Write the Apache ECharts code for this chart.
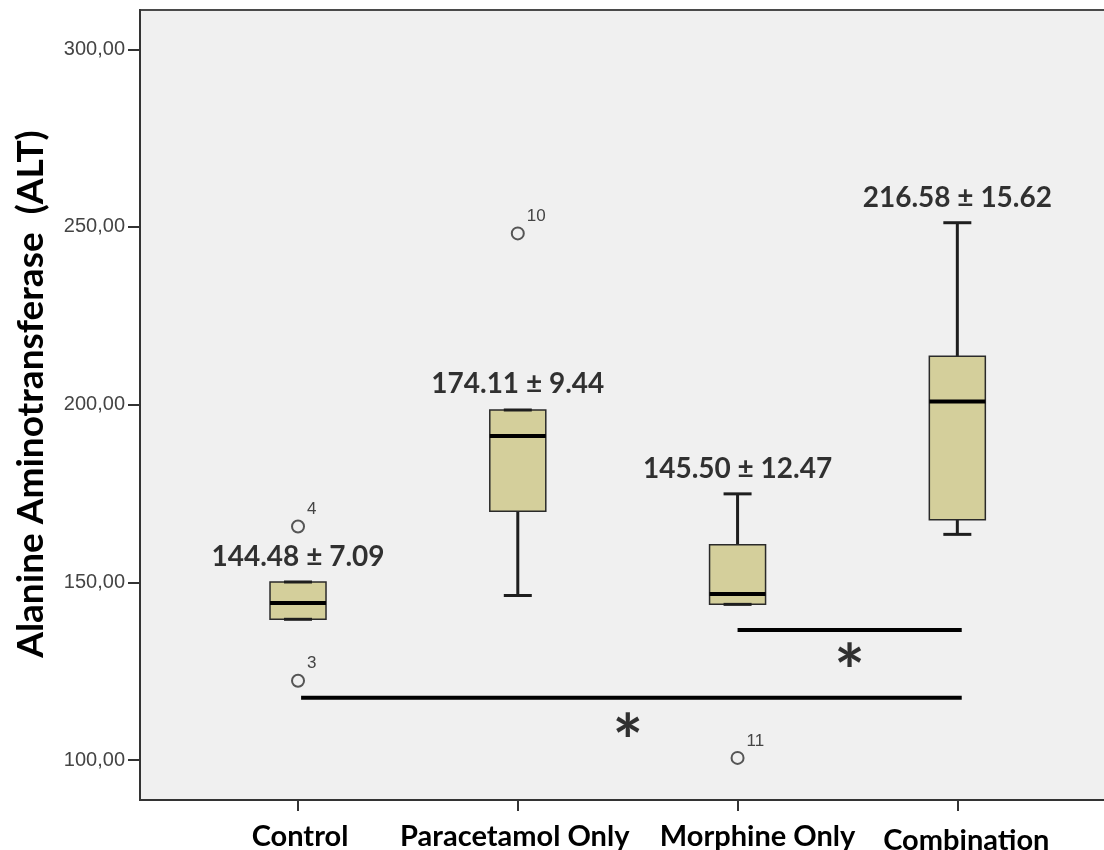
<!DOCTYPE html>
<html>
<head>
<meta charset="utf-8">
<script src="https://cdn.jsdelivr.net/npm/echarts@6/dist/echarts.min.js"></script>
<style>
  html, body { margin: 0; padding: 0; background: #fff; }
  #alt-box { width: 1104px; height: 850px; }
</style>
</head>
<body>
<div id="alt-box"></div>
<script>
// groups on the x axis (1..4)
const categories = ['Control', 'Paracetamol Only', 'Morphine Only', 'Combination'];
const groupX = [1, 2, 3, 4];
// box statistics
const whiskerLow = [139.6, 146.3, 143.8, 163.5];
const q1 = [139.6, 170.0, 143.8, 167.6];
const median = [144.2, 191.2, 146.7, 200.9];
const q3 = [150.1, 198.5, 160.6, 213.6];
const whiskerHigh = [150.1, 198.5, 174.9, 251.2];
// outliers (SPSS case numbers)
const outlierX = [1, 1, 2, 3];
const outlierValue = [165.7, 122.3, 248.2, 100.6];
const outlierCase = ['4', '3', '10', '11'];
// mean ± SD annotations
const meanSd = ['144.48 ± 7.09', '174.11 ± 9.44', '145.50 ± 12.47', '216.58 ± 15.62'];
const meanSdY = [157.2, 205.8, 182.0, 258.3];
// significance bars
const sigFrom = [3, 1.014];
const sigTo = [4.02, 4.02];
const sigY = [136.6, 117.5];
const starX = [3.51, 2.5];
const starY = [128.7, 109.0];
// y axis ticks
const yTicks = [100, 150, 200, 250, 300];

const chartDom = document.getElementById('alt-box');
const myChart = echarts.init(chartDom);

const boxData = groupX.map(function (x, i) {
  return [x, whiskerLow[i], q1[i], median[i], q3[i], whiskerHigh[i]];
});

function renderBox(params, api) {
  const x = api.value(0);
  const pLow = api.coord([x, api.value(1)]);
  const pQ1 = api.coord([x, api.value(2)]);
  const pMed = api.coord([x, api.value(3)]);
  const pQ3 = api.coord([x, api.value(4)]);
  const pHigh = api.coord([x, api.value(5)]);
  const cx = pMed[0];
  const half = 28;
  const cap = 14;
  const wStyle = { stroke: '#1e1e1e', lineWidth: 3 };
  return {
    type: 'group',
    children: [
      { type: 'line', shape: { x1: cx, y1: pQ3[1], x2: cx, y2: pHigh[1] }, style: wStyle },
      { type: 'line', shape: { x1: cx, y1: pQ1[1], x2: cx, y2: pLow[1] }, style: wStyle },
      {
        type: 'rect',
        shape: { x: cx - half, y: pQ3[1], width: half * 2, height: pQ1[1] - pQ3[1] },
        style: { fill: '#d4cf9b', stroke: '#2a2a2a', lineWidth: 1.5 }
      },
      { type: 'line', shape: { x1: cx - cap, y1: pHigh[1], x2: cx + cap, y2: pHigh[1] }, style: wStyle },
      { type: 'line', shape: { x1: cx - cap, y1: pLow[1], x2: cx + cap, y2: pLow[1] }, style: wStyle },
      { type: 'line', shape: { x1: cx - half, y1: pMed[1], x2: cx + half, y2: pMed[1] }, style: { stroke: '#000', lineWidth: 4 } }
    ]
  };
}

function renderSig(params, api) {
  const a = api.coord([api.value(0), api.value(2)]);
  const b = api.coord([api.value(1), api.value(2)]);
  return {
    type: 'line',
    shape: { x1: a[0], y1: a[1], x2: b[0], y2: b[1] },
    style: { stroke: '#000', lineWidth: 4 }
  };
}

// the category names in the original sit a little off their ticks
const labelFont = { fontFamily: 'Lato', fontWeight: 'bold', fontSize: 29, color: '#000' };
const labelRich = {
  c0: Object.assign({ padding: [0, 0, 0, 4] }, labelFont),
  c1: Object.assign({ padding: [0, 6, 0, 0] }, labelFont),
  c2: Object.assign({ padding: [0, 0, 0, 40] }, labelFont),
  c3: Object.assign({ padding: [4, 0, 0, 18] }, labelFont)
};

const option = {
  animation: false,
  backgroundColor: '#fff',
  grid: {
    left: 140,
    right: -3,
    top: 10,
    bottom: 50,
    outerBoundsMode: 'none',
    show: true,
    backgroundColor: '#f0f0f0',
    borderColor: '#4a4a4a',
    borderWidth: 2
  },
  xAxis: {
    type: 'value',
    min: 0.281,
    max: 4.681,
    splitLine: { show: false },
    axisLine: { show: true, lineStyle: { color: '#333', width: 2 } },
    axisTick: { show: true, customValues: groupX, length: 11, lineStyle: { color: '#333', width: 2 } },
    axisLabel: {
      customValues: groupX,
      formatter: function (v) {
        const i = Math.round(v) - 1;
        return categories[i] ? '{c' + i + '|' + categories[i] + '}' : '';
      },
      rich: labelRich,
      margin: 22,
      fontFamily: 'Lato',
      fontWeight: 'bold',
      fontSize: 29,
      color: '#000'
    }
  },
  yAxis: {
    type: 'value',
    min: 88.75,
    max: 311.06,
    name: 'Alanine Aminotransferase  (ALT)',
    nameLocation: 'middle',
    nameGap: 90,
    nameTextStyle: {
      fontFamily: 'Lato',
      fontWeight: 'bold',
      fontSize: 37,
      color: '#000',
      padding: [0, 0, 0, 22]
    },
    splitLine: { show: false },
    axisLine: { show: true, lineStyle: { color: '#333', width: 2 } },
    axisTick: { show: true, customValues: yTicks, length: 12, lineStyle: { color: '#333', width: 2 } },
    axisLabel: {
      customValues: yTicks,
      formatter: function (v) { return v.toFixed(2).replace('.', ','); },
      margin: 15,
      fontFamily: 'Liberation Sans, Arial',
      fontSize: 20,
      color: '#444'
    }
  },
  series: [
    {
      name: 'box',
      type: 'custom',
      renderItem: renderBox,
      encode: { x: 0, y: [1, 2, 3, 4, 5] },
      data: boxData,
      z: 2
    },
    {
      name: 'outliers',
      type: 'scatter',
      data: outlierX.map(function (x, i) { return [x, outlierValue[i]]; }),
      symbol: 'circle',
      symbolSize: 12,
      itemStyle: { color: '#f0f0f0', borderColor: '#555', borderWidth: 2, opacity: 1 },
      label: {
        show: true,
        position: 'right',
        distance: 2,
        offset: [0, -17],
        formatter: function (p) { return outlierCase[p.dataIndex]; },
        fontFamily: 'Liberation Sans, Arial',
        fontSize: 17,
        color: '#444'
      },
      z: 3
    },
    {
      name: 'meanSd',
      type: 'scatter',
      data: groupX.map(function (x, i) { return [x, meanSdY[i]]; }),
      symbolSize: 0,
      label: {
        show: true,
        position: 'inside',
        formatter: function (p) { return meanSd[p.dataIndex]; },
        fontFamily: 'Lato',
        fontWeight: 'bold',
        fontSize: 28,
        color: '#000'
      },
      z: 4
    },
    {
      name: 'sig',
      type: 'custom',
      renderItem: renderSig,
      encode: { x: [0, 1], y: 2 },
      data: sigFrom.map(function (f, i) { return [f, sigTo[i], sigY[i]]; }),
      z: 3
    },
    {
      name: 'stars',
      type: 'scatter',
      data: starX.map(function (x, i) { return [x, starY[i]]; }),
      symbolSize: 0,
      label: {
        show: true,
        position: 'inside',
        formatter: '*',
        offset: [0, 17],
        fontFamily: 'Lato',
        fontWeight: 'bold',
        fontSize: 72,
        color: '#000'
      },
      z: 4
    }
  ]
};

option && myChart.setOption(option);
window.addEventListener('resize', function () {
  myChart.resize();
});
</script>
</body>
</html>
